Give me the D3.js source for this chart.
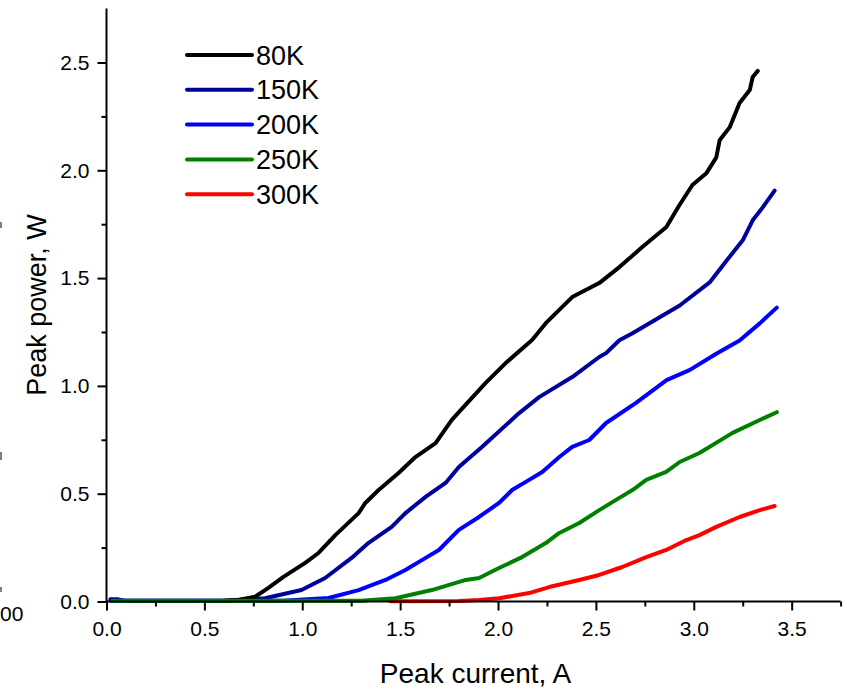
<!DOCTYPE html>
<html>
<head>
<meta charset="utf-8">
<script src="https://cdn.jsdelivr.net/npm/d3@7"></script>
<style>
  html, body { margin: 0; padding: 0; background: #fff; }
  svg { display: block; font-family: "Liberation Sans", Arial, sans-serif; }
</style>
</head>
<body>
<svg id="chart" width="847" height="689"></svg>
<script>
// Peak power vs peak current at several heat-sink temperatures
const seriesNames = ["80K", "150K", "200K", "250K", "300K"];
const seriesColors = ["#000000", "#00009c", "#0000ff", "#008000", "#ff0000"];

const current80 = [0.60, 0.68, 0.759, 0.827, 0.904, 1.015, 1.083, 1.169, 1.288, 1.322, 1.390, 1.492, 1.578, 1.681, 1.764, 1.800, 1.937, 2.039, 2.174, 2.244, 2.379, 2.517, 2.620, 2.737, 2.860, 2.927, 2.993, 3.064, 3.115, 3.132, 3.183, 3.234, 3.286, 3.301, 3.327];
const power80   = [0.004, 0.008, 0.022, 0.063, 0.114, 0.179, 0.225, 0.308, 0.410, 0.457, 0.517, 0.596, 0.670, 0.735, 0.842, 0.878, 1.014, 1.106, 1.213, 1.291, 1.412, 1.477, 1.551, 1.644, 1.737, 1.839, 1.932, 1.986, 2.060, 2.139, 2.199, 2.312, 2.372, 2.433, 2.461];

const current150 = [0.02, 0.06, 0.10, 0.60, 0.810, 0.996, 1.117, 1.252, 1.339, 1.457, 1.527, 1.630, 1.732, 1.800, 1.918, 2.108, 2.210, 2.379, 2.517, 2.552, 2.620, 2.687, 2.826, 2.928, 3.081, 3.168, 3.250, 3.301, 3.352, 3.413];
const power150   = [0.010, 0.010, 0.003, 0.003, 0.015, 0.053, 0.109, 0.202, 0.272, 0.346, 0.410, 0.485, 0.550, 0.624, 0.717, 0.874, 0.948, 1.041, 1.134, 1.152, 1.212, 1.244, 1.318, 1.373, 1.480, 1.582, 1.675, 1.768, 1.828, 1.906];

const current200 = [0.02, 0.90, 1.134, 1.288, 1.425, 1.527, 1.611, 1.698, 1.800, 1.903, 2.005, 2.072, 2.159, 2.226, 2.313, 2.379, 2.466, 2.552, 2.705, 2.861, 2.978, 3.117, 3.234, 3.337, 3.424];
const power200   = [0.003, 0.003, 0.016, 0.053, 0.100, 0.146, 0.192, 0.239, 0.332, 0.392, 0.457, 0.517, 0.564, 0.601, 0.670, 0.717, 0.749, 0.828, 0.921, 1.027, 1.073, 1.150, 1.211, 1.290, 1.363];

const current250 = [0.03, 1.30, 1.476, 1.662, 1.835, 1.903, 2.005, 2.123, 2.244, 2.313, 2.415, 2.517, 2.584, 2.687, 2.757, 2.859, 2.928, 3.029, 3.198, 3.337, 3.424];
const power250   = [0.003, 0.003, 0.015, 0.053, 0.100, 0.109, 0.155, 0.206, 0.271, 0.318, 0.364, 0.424, 0.461, 0.517, 0.564, 0.601, 0.647, 0.689, 0.782, 0.842, 0.878];

const current300 = [1.45, 1.80, 1.903, 2.005, 2.159, 2.261, 2.415, 2.517, 2.635, 2.757, 2.859, 2.962, 3.029, 3.115, 3.234, 3.337, 3.413];
const power300   = [0.001, 0.002, 0.007, 0.015, 0.039, 0.067, 0.100, 0.123, 0.160, 0.206, 0.239, 0.285, 0.308, 0.346, 0.392, 0.424, 0.443];

const xMajorTicks = [0, 0.5, 1.0, 1.5, 2.0, 2.5, 3.0, 3.5];
const xMinorTicks = [0.25, 0.75, 1.25, 1.75, 2.25, 2.75, 3.25, 3.75];
const yMajorTicks = [0, 0.5, 1.0, 1.5, 2.0, 2.5];
const yMinorTicks = [0.25, 0.75, 1.25, 1.75, 2.25];

const xTitle = "Peak current, A";
const yTitle = "Peak power, W";

const svg = d3.select("#chart");
const x = d3.scaleLinear().domain([0, 3.75]).range([106.5, 840.6]);
const y = d3.scaleLinear().domain([0, 2.75]).range([601.5, 8.6]);

const fmt = d3.format(".1f");

// curves: drawn so the 250K trace lies on top along the shared baseline
const series = [
  { name: seriesNames[4], color: seriesColors[4], xs: current300, ys: power300 },
  { name: seriesNames[2], color: seriesColors[2], xs: current200, ys: power200 },
  { name: seriesNames[1], color: seriesColors[1], xs: current150, ys: power150 },
  { name: seriesNames[0], color: seriesColors[0], xs: current80,  ys: power80 },
  { name: seriesNames[3], color: seriesColors[3], xs: current250, ys: power250 }
];

const line = d3.line().x(d => x(d[0])).y(d => y(d[1]));

svg.append("g").selectAll("path")
  .data(series)
  .join("path")
  .attr("d", s => line(d3.zip(s.xs, s.ys)))
  .attr("fill", "none")
  .attr("stroke", s => s.color)
  .attr("stroke-width", 4)
  .attr("stroke-linejoin", "round")
  .attr("stroke-linecap", "round");

// axes
const xAxis = svg.append("g").attr("transform", `translate(0,${y(0)})`)
  .call(d3.axisBottom(x).tickValues(xMajorTicks).tickFormat(fmt).tickSize(9).tickPadding(11));
svg.append("g").attr("transform", `translate(0,${y(0)})`)
  .call(d3.axisBottom(x).tickValues(xMinorTicks).tickFormat("").tickSize(5))
  .select(".domain").remove();

const yAxis = svg.append("g").attr("transform", `translate(${x(0)},0)`)
  .call(d3.axisLeft(y).tickValues(yMajorTicks).tickFormat(fmt).tickSize(9).tickPadding(8));
svg.append("g").attr("transform", `translate(${x(0)},0)`)
  .call(d3.axisLeft(y).tickValues(yMinorTicks).tickFormat("").tickSize(5))
  .select(".domain").remove();

svg.selectAll(".domain, .tick line").attr("stroke", "#000").attr("stroke-width", 2);
xAxis.select(".domain").attr("d", `M${x(0)},0H${x(3.75)}`);
yAxis.select(".domain").attr("d", `M0,${y(0)}V${y(2.75)}`);
svg.selectAll("g.tick text")
  .style("font-size", "21px").style("font-family", "'Liberation Sans', Arial, sans-serif")
  .attr("fill", "#000");

// axis titles
svg.append("text").attr("x", (x(0) + x(3.75)) / 2 + 2).attr("y", 683)
  .attr("text-anchor", "middle").attr("font-size", 28).text(xTitle);
svg.append("text").attr("transform", `translate(46,${(y(0) + y(2.75)) / 2}) rotate(-90)`)
  .attr("text-anchor", "middle").attr("font-size", 27).text(yTitle);

// remnant of a neighbouring panel at the left edge
svg.append("text").attr("x", 0).attr("y", 621).attr("font-size", 21).text("00");
[[222, 228], [452, 460], [587, 592]].forEach(([a, b]) =>
  svg.append("line").attr("x1", 1).attr("x2", 1).attr("y1", a).attr("y2", b)
    .attr("stroke", "#555").attr("stroke-width", 1.5));

// legend
const legend = svg.append("g");
const legendRows = seriesNames.map((n, i) => ({ name: n, color: seriesColors[i], i }));
legend.selectAll("line").data(legendRows).join("line")
  .attr("x1", 187).attr("x2", 252)
  .attr("y1", d => 55 + d.i * 34.8).attr("y2", d => 55 + d.i * 34.8)
  .attr("stroke", d => d.color).attr("stroke-width", 4).attr("stroke-linecap", "round");
legend.selectAll("text").data(legendRows).join("text")
  .attr("x", 256).attr("y", d => 55 + d.i * 34.8 + 9.5)
  .attr("font-size", 27).text(d => d.name);
</script>
</body>
</html>
